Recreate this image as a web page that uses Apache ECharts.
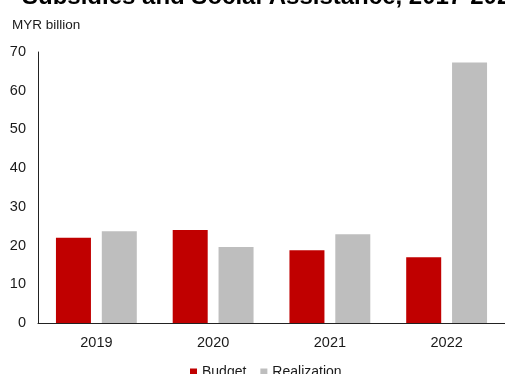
<!DOCTYPE html>
<html>
<head>
<meta charset="utf-8">
<script src="https://cdn.jsdelivr.net/npm/echarts@6/dist/echarts.min.js"></script>
<style>
  html, body { margin: 0; padding: 0; background: #fff; }
  #chart { width: 505px; height: 374px; }
</style>
</head>
<body>
<div id="chart"></div>
<script>
// values, MYR billion
const years = ['2019', '2020', '2021', '2022']
const budget = [22.0, 24.0, 18.8, 17.0]
const realization = [23.7, 19.6, 22.9, 67.3]

const chart = echarts.init(document.getElementById('chart'), null, { renderer: 'canvas' })

const font = 'Liberation Sans, Arial, sans-serif'

chart.setOption({
  backgroundColor: '#fff',
  animation: false,
  title: [
    {
      text: 'Subsidies and Social Assistance, 2017-2022',
      left: 17, top: -20,
      textStyle: { fontFamily: font, fontSize: 24, fontWeight: 'bold', color: '#000' }
    },
    {
      text: 'MYR billion',
      left: 7, top: 13,
      textStyle: { fontFamily: font, fontSize: 13.5, fontWeight: 'normal', color: '#1a1a1a' }
    }
  ],
  legend: {
    top: 360,
    left: 185,
    icon: 'rect',
    itemWidth: 7, itemHeight: 7,
    itemGap: 14,
    textStyle: { fontFamily: font, fontSize: 14, color: '#1a1a1a' },
    data: ['Budget', 'Realization']
  },
  grid: { left: 38, right: -2, top: 52, bottom: 51 },
  xAxis: {
    type: 'category',
    data: years,
    axisLine: { lineStyle: { color: '#222', width: 1 } },
    axisTick: { show: false },
    axisLabel: { fontFamily: font, fontSize: 14.5, color: '#1a1a1a', margin: 12 }
  },
  yAxis: {
    type: 'value',
    min: 0, max: 70, interval: 10,
    axisLine: { show: true, lineStyle: { color: '#222', width: 1 } },
    axisTick: { show: false },
    splitLine: { show: false },
    axisLabel: { fontFamily: font, fontSize: 14.5, color: '#1a1a1a', margin: 12 }
  },
  series: [
    {
      name: 'Budget',
      type: 'bar',
      data: budget,
      barWidth: 35,
      barGap: '31%',
      itemStyle: { color: '#C00000' }
    },
    {
      name: 'Realization',
      type: 'bar',
      data: realization,
      barWidth: 35,
      itemStyle: { color: '#BEBEBE' }
    }
  ]
})
</script>
</body>
</html>
